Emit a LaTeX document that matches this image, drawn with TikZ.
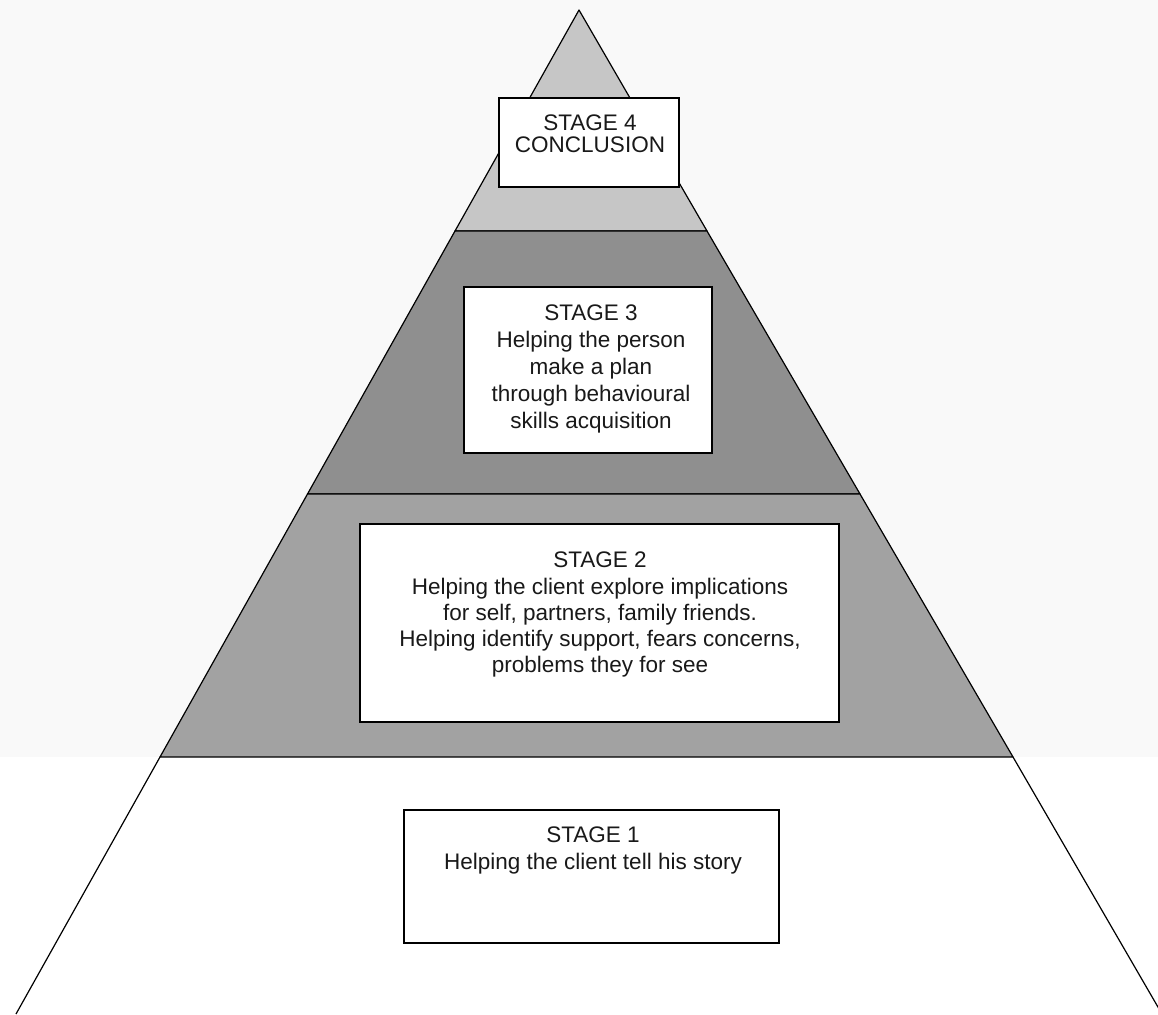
\documentclass[tikz,border=0pt]{standalone}
\usepackage{fontspec}
\setmainfont{Liberation Sans}
\definecolor{bgtop}{HTML}{F9F9F9}
\definecolor{band4}{HTML}{C6C6C6}
\definecolor{band3}{HTML}{8F8F8F}
\definecolor{band2}{HTML}{A2A2A2}
\tikzset{
  band/.style={draw=black, line width=1.2pt, line join=round},
  edge/.style={draw=black, line width=1.2pt},
  stagebox/.style={draw=black, line width=1.2pt, fill=white, inner sep=0pt},
  stagetext/.style={align=center, inner sep=0pt, anchor=north, text=black!90,
    font=\fontsize{22.5}{27}\selectfont}
}
\begin{document}
\begin{tikzpicture}[x=1pt,y=-1pt]
\useasboundingbox (0,0) rectangle (1158,1014);
\clip (0,0) rectangle (1158,1014);
\fill[bgtop] (0,0) rectangle (1158,757);
\coordinate (apex) at (579,10);
\coordinate (l4) at (455,231);
\coordinate (r4) at (707,231);
\coordinate (l3) at (307.5,494);
\coordinate (r3) at (860,494);
\coordinate (l2) at (160,757);
\coordinate (r2) at (1013,757);
\coordinate (l1) at (16,1014);
\coordinate (r1) at (1162,1014);
\filldraw[band, fill=band4] (apex) -- (r4) -- (l4) -- cycle;
\filldraw[band, fill=band3] (l4) -- (r4) -- (r3) -- (l3) -- cycle;
\filldraw[band, fill=band2] (l3) -- (r3) -- (r2) -- (l2) -- cycle;
\draw[edge] (l2) -- (l1);
\draw[edge] (r2) -- (r1);

% Stage 4
\node[stagebox, minimum width=180pt, minimum height=89pt] (s4) at (589,142.5) {};
\node[stagetext] (s4t) at (590,115) {STAGE 4\\[-5pt]CONCLUSION};
% Stage 3
\node[stagebox, minimum width=248pt, minimum height=166pt] (s3) at (588,370) {};
\node[stagetext] (s3t) at (591,305) {STAGE 3\\Helping the person\\make a plan\\through behavioural\\skills acquisition};
% Stage 2
\node[stagebox, minimum width=479pt, minimum height=198pt] (s2) at (599.5,623) {};
\node[stagetext, font=\fontsize{22.5}{26.2}\selectfont] (s2t) at (600,552) {STAGE 2\\Helping the client explore implications\\for self, partners, family friends.\\Helping identify support, fears concerns,\\problems they for see};
% Stage 1
\node[stagebox, minimum width=375pt, minimum height=133pt] (s1) at (591.5,876.5) {};
\node[stagetext] (s1t) at (593,827) {STAGE 1\\Helping the client tell his story};
\end{tikzpicture}
\end{document}
